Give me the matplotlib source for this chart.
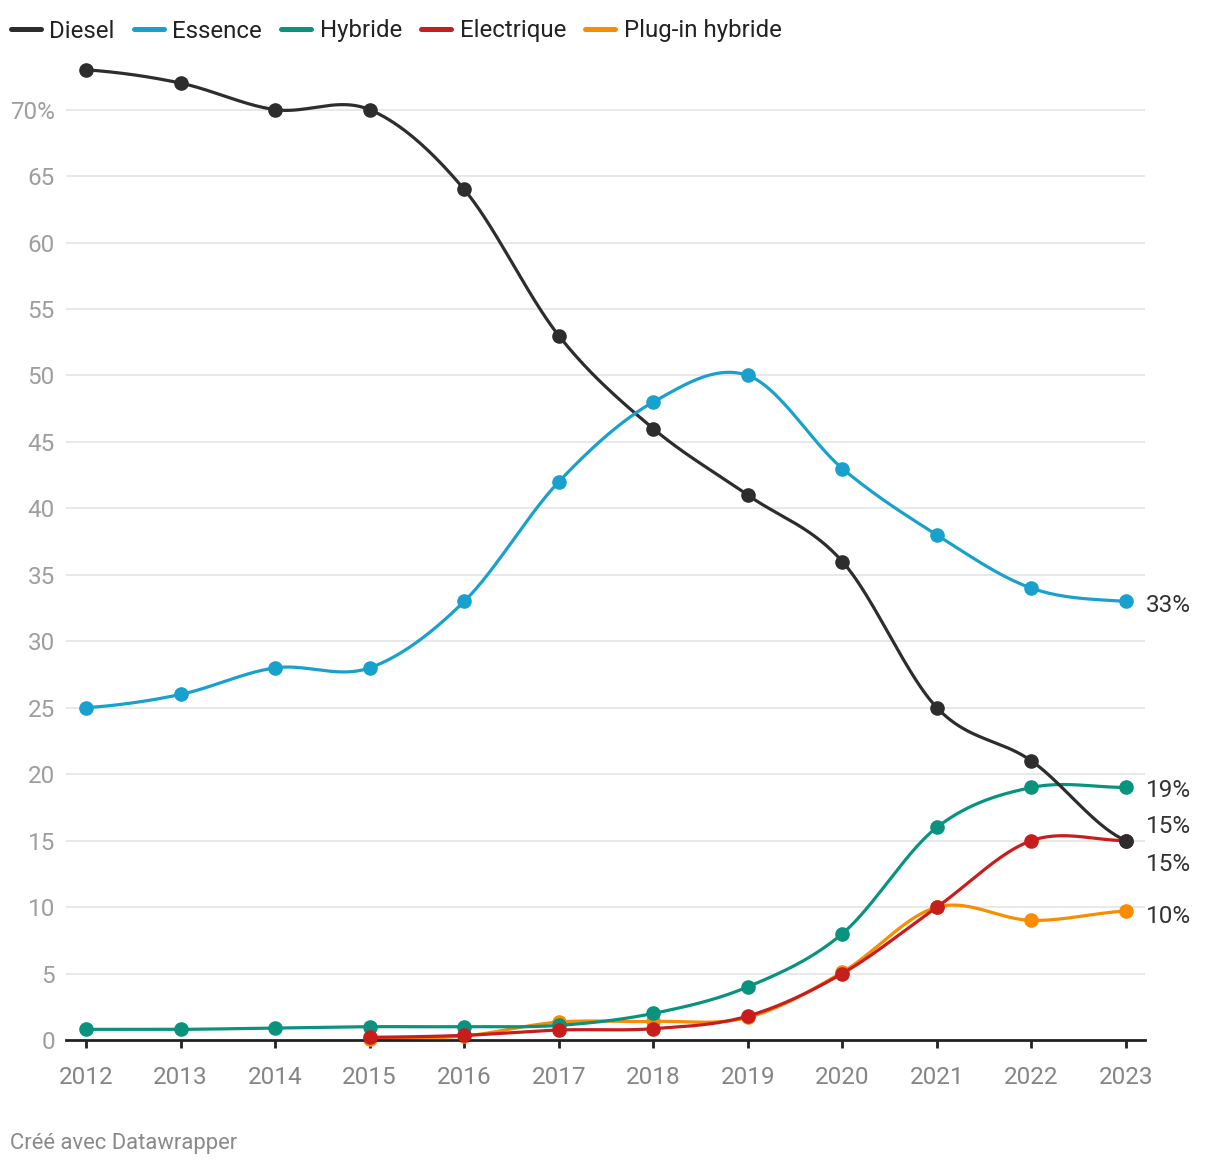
import numpy as np
import matplotlib
matplotlib.use("Agg")
import matplotlib.pyplot as plt
from matplotlib.lines import Line2D

plt.rcParams['font.family'] = ['Roboto', 'DejaVu Sans']

years = [2012, 2013, 2014, 2015, 2016, 2017, 2018, 2019, 2020, 2021, 2022, 2023]
diesel = [73, 72, 70, 70, 64, 53, 46, 41, 36, 25, 21, 15]
essence = [25, 26, 28, 28, 33, 42, 48, 50, 43, 38, 34, 33]
hybride = [0.8, 0.8, 0.9, 1.0, 1.0, 1.1, 2.0, 4.0, 8.0, 16, 19, 19]
electrique = [None, None, None, 0.2, 0.35, 0.75, 0.85, 1.8, 5.0, 10, 15, 15]
plugin = [None, None, None, 0.1, 0.3, 1.35, 1.4, 1.7, 5.1, 10, 9, 9.7]

names = ['Diesel', 'Essence', 'Hybride', 'Electrique', 'Plug-in hybride']
colors = ['#2d2d2d', '#18a1cd', '#09937e', '#c71e1d', '#fa8c00']
series = [diesel, essence, hybride, electrique, plugin]
zorders = [5, 6, 3, 4, 2]
end_labels = ['15%', '33%', '19%', '15%', '10%']
label_shift = [1.1, -0.3, -0.2, -1.8, -0.4]


def catmull_rom(x, y, n=40):
    x = np.asarray(x, float)
    y = np.asarray(y, float)
    xs, ys = [], []
    for i in range(len(x) - 1):
        p0 = y[i - 1] if i > 0 else y[i]
        p1, p2 = y[i], y[i + 1]
        p3 = y[i + 2] if i + 2 < len(y) else y[i + 1]
        m1 = (p2 - p0) / 2
        m2 = (p3 - p1) / 2
        t = np.linspace(0, 1, n)
        h00 = 2 * t**3 - 3 * t**2 + 1
        h10 = t**3 - 2 * t**2 + t
        h01 = -2 * t**3 + 3 * t**2
        h11 = t**3 - t**2
        xs.append(x[i] + t * (x[i + 1] - x[i]))
        ys.append(h00 * p1 + h10 * m1 + h01 * p2 + h11 * m2)
    return np.concatenate(xs), np.concatenate(ys)


fig = plt.figure(figsize=(12.2, 11.66), dpi=100)
ax = fig.add_axes([66 / 1220, 1 - 1040 / 1166, (1145 - 66) / 1220, (1040 - 56.5) / 1166])

for name, col, vals, z, lab, sh in zip(names, colors, series, zorders, end_labels, label_shift):
    xv = [yr for yr, v in zip(years, vals) if v is not None]
    yv = [v for v in vals if v is not None]
    sx, sy = catmull_rom(xv, yv)
    ax.plot(sx, sy, color=col, lw=2.3, zorder=z, clip_on=False, solid_capstyle='round')
    ax.plot(xv, yv, 'o', color=col, ms=9.5, zorder=z, clip_on=False)
    ax.text(years[-1] + 0.21, yv[-1] + sh, lab, color='#333333', fontsize=17.5,
            va='center', ha='left')

ppy = 1040 / 11
ax.set_xlim(2012 - 20 / ppy, 2023 + 19 / ppy)
ax.set_ylim(0, 74)

yt = list(range(0, 75, 5))[:15]
ax.set_yticks(yt)
ax.set_yticklabels([str(v) if v != 70 else '70%' for v in yt])
ax.set_xticks(years)
ax.set_xticklabels([str(y) for y in years])

for v in yt[1:]:
    ax.axhline(v, color='#e2e2e2', lw=1.1, zorder=0)

for s in ['top', 'right', 'left']:
    ax.spines[s].set_visible(False)
ax.spines['bottom'].set_color('#222222')
ax.spines['bottom'].set_linewidth(2)
ax.tick_params(axis='y', length=0, pad=8, labelsize=17.5, labelcolor='#9e9e9e')
ax.tick_params(axis='x', length=6, width=2, color='#222222', pad=12.5, labelsize=17.5,
               labelcolor='#858585')

handles = [Line2D([], [], color=c, lw=3.6, solid_capstyle='round') for c in colors]
leg = fig.legend(handles, names, loc='center left', bbox_to_anchor=(11 / 1220, 1 - 31 / 1166),
                 ncol=5, frameon=False, fontsize=17.3, handlelength=1.25,
                 handletextpad=0.35, columnspacing=0.8, borderpad=0, borderaxespad=0)
for t in leg.get_texts():
    t.set_color('#222222')

fig.text(10 / 1220, 1 - 1143 / 1166, 'Créé avec Datawrapper', color='#8a8a8a',
         fontsize=15.8, va='center', ha='left')

fig.savefig('out.png', dpi=100)
